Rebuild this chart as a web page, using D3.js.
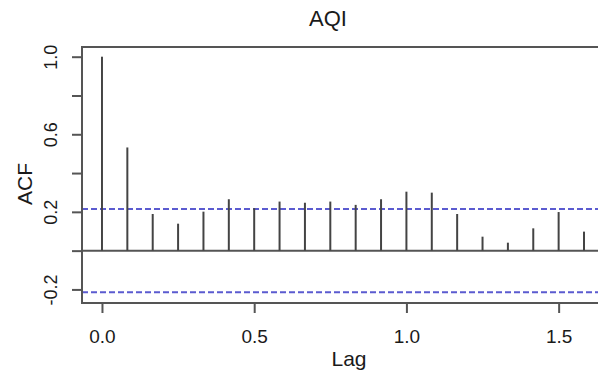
<!DOCTYPE html>
<html>

<head>
		<title>AQI ACF</title>
		<!-- d3js -->
		<script src="https://cdnjs.cloudflare.com/ajax/libs/d3/7.8.5/d3.min.js"></script>
		<style>
			body { margin: 0; background: #fff; }
			svg text { font-family: "Liberation Sans", Arial, sans-serif; fill: #1a1a1a; }
		</style>
</head>

<body>
	<script type="text/javascript">
		// lag in years (monthly series, lag k/12)
		var lags = [0, 1/12, 2/12, 3/12, 4/12, 5/12, 6/12, 7/12, 8/12, 9/12,
			10/12, 11/12, 12/12, 13/12, 14/12, 15/12, 16/12, 17/12, 18/12, 19/12];
		var acfValues = [1.0, 0.532, 0.189, 0.139, 0.201, 0.265, 0.219, 0.253, 0.247, 0.253,
			0.236, 0.265, 0.304, 0.299, 0.189, 0.072, 0.041, 0.115, 0.199, 0.098];
		var ciLevel = 0.215;
		var xTicks = [0, 0.5, 1.0, 1.5];
		var yTicks = [-0.2, 0.0, 0.2, 0.4, 0.6, 0.8, 1.0];
		var yTickLabels = ["-0.2", "", "0.2", "", "0.6", "", "1.0"];

		var self = {};
		self.width = 598;
		self.height = 376;

		self.init = function() {
			var left = 82, top = 47, bottom = 303, right = 604;

			var x = d3.scaleLinear().domain([-0.0656, 1.649]).range([left, right]);
			var y = d3.scaleLinear().domain([-0.27, 1.05]).range([bottom, top]);

			var svg = d3.select("body")
				.append("svg")
				.attr("width", self.width)
				.attr("height", self.height);

			// zero line
			svg.append("line")
				.attr("x1", left).attr("x2", right)
				.attr("y1", y(0)).attr("y2", y(0))
				.attr("stroke", "#555").attr("stroke-width", 2);

			// confidence bounds
			[ciLevel, -ciLevel].forEach(function(v) {
				svg.append("line")
					.attr("x1", left).attr("x2", right)
					.attr("y1", y(v)).attr("y2", y(v))
					.attr("stroke", "#5b5bd0")
					.attr("stroke-width", 2)
					.attr("stroke-dasharray", "6,3");
			});

			// spikes
			svg.selectAll("line.spike")
				.data(lags)
				.enter()
					.append("line")
					.attr("class", "spike")
					.attr("x1", function(d) { return x(d); })
					.attr("x2", function(d) { return x(d); })
					.attr("y1", y(0))
					.attr("y2", function(d, i) { return y(acfValues[i]); })
					.attr("stroke", "#444")
					.attr("stroke-width", 2);

			// box
			svg.append("rect")
				.attr("x", left).attr("y", top)
				.attr("width", right - left).attr("height", bottom - top)
				.attr("fill", "none")
				.attr("stroke", "#555")
				.attr("stroke-width", 2);

			// y axis
			var yAxis = d3.axisLeft(y).tickValues(yTicks).tickSize(10).tickSizeOuter(0)
				.tickFormat(function(d, i) { return yTickLabels[i]; });
			var gy = svg.append("g")
				.attr("transform", "translate(" + left + ",0)")
				.call(yAxis);
			gy.select(".domain").remove();
			gy.selectAll(".tick line").attr("stroke", "#555").attr("stroke-width", 2);
			gy.selectAll(".tick text")
				.attr("x", null).attr("dy", null)
				.attr("transform", "translate(-25,0) rotate(-90)")
				.attr("text-anchor", "middle")
				.style("font-size", "18px")
				.style("font-family", "Liberation Sans, Arial, sans-serif")
				.attr("fill", "#1a1a1a");

			// x axis
			var xAxis = d3.axisBottom(x).tickValues(xTicks).tickSize(10).tickSizeOuter(0)
				.tickFormat(d3.format(".1f"));
			var gx = svg.append("g")
				.attr("transform", "translate(0," + bottom + ")")
				.call(xAxis);
			gx.select(".domain").remove();
			gx.selectAll(".tick line").attr("stroke", "#555").attr("stroke-width", 2);
			gx.selectAll(".tick text")
				.attr("y", 40).attr("dy", null)
				.style("font-size", "19px")
				.style("font-family", "Liberation Sans, Arial, sans-serif")
				.attr("fill", "#1a1a1a");

			// titles
			svg.append("text")
				.attr("x", 328).attr("y", 26)
				.attr("text-anchor", "middle")
				.style("font-size", "22px")
				.text("AQI");

			svg.append("text")
				.attr("x", 349).attr("y", 366)
				.attr("text-anchor", "middle")
				.style("font-size", "21px")
				.text("Lag");

			svg.append("text")
				.attr("transform", "translate(32,184) rotate(-90)")
				.attr("text-anchor", "middle")
				.style("font-size", "21px")
				.text("ACF");
		};

		self.init();
	</script>
</body>

</html>
